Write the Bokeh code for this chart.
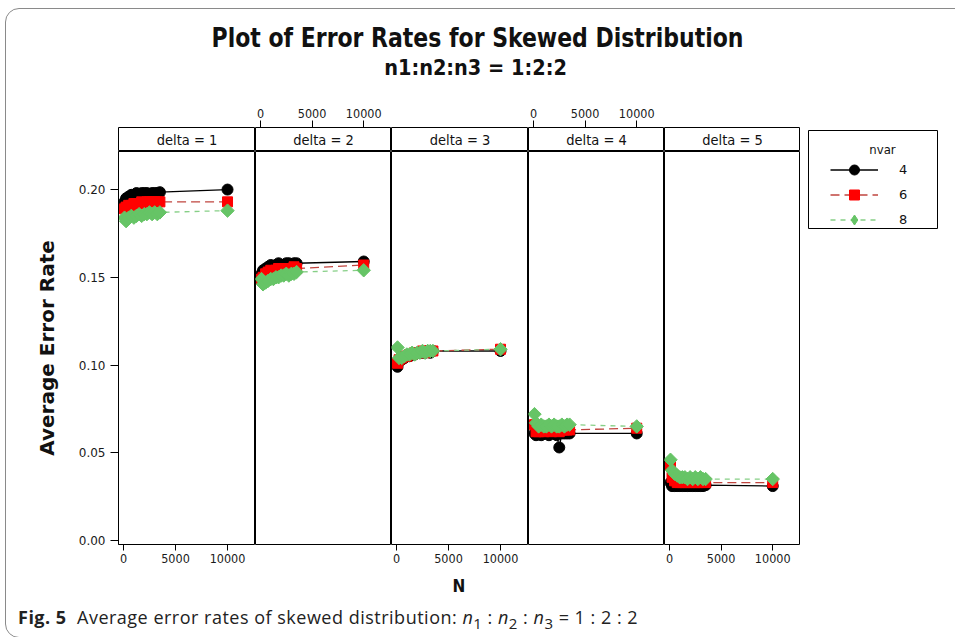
from bokeh.plotting import figure
from bokeh.models import (Range1d, LinearAxis, FixedTicker, NumeralTickFormatter, Div,
                          Legend, LegendItem, Label, ColumnDataSource)
from bokeh.layouts import row, column
from bokeh.embed import file_html
from bokeh.resources import INLINE
from bokeh.core.properties import value
import math

# ---------------- data ----------------
TITLE = "Plot of Error Rates for Skewed Distribution"
SUBTITLE = "n1:n2:n3 = 1:2:2"
X_LABEL = "N"
Y_LABEL = "Average Error Rate"
LEGEND_TITLE = "nvar"
nvar_labels = ["4", "6", "8"]
strip_labels = ["delta = 1", "delta = 2", "delta = 3", "delta = 4", "delta = 5"]
x_ticks = [0, 5000, 10000]
y_ticks = [0.0, 0.05, 0.10, 0.15, 0.20]

N = [100, 250, 500, 750, 1000, 1250, 1500, 1750, 2000, 2250, 2500, 2750, 3000, 3250, 3500, 10000]

d1_nvar4 = [0.193, 0.195, 0.196, 0.197, 0.197, 0.198, 0.197, 0.198, 0.198, 0.198, 0.197, 0.198, 0.198, 0.198, 0.1985, 0.200]
d1_nvar6 = [0.189, 0.190, 0.191, 0.191, 0.192, 0.192, 0.192, 0.193, 0.192, 0.193, 0.193, 0.193, 0.193, 0.193, 0.193, 0.193]
d1_nvar8 = [0.184, 0.182, 0.184, 0.185, 0.184, 0.185, 0.186, 0.185, 0.186, 0.186, 0.187, 0.186, 0.187, 0.186, 0.187, 0.188]

d2_nvar4 = [0.152, 0.154, 0.155, 0.156, 0.157, 0.156, 0.157, 0.158, 0.157, 0.157, 0.158, 0.158, 0.157, 0.158, 0.158, 0.159]
d2_nvar6 = [0.149, 0.150, 0.152, 0.153, 0.154, 0.153, 0.154, 0.155, 0.154, 0.155, 0.155, 0.155, 0.155, 0.156, 0.155, 0.157]
d2_nvar8 = [0.149, 0.146, 0.147, 0.148, 0.149, 0.149, 0.150, 0.150, 0.151, 0.151, 0.152, 0.151, 0.152, 0.152, 0.153, 0.154]

d3_nvar4 = [0.099, 0.102, 0.103, 0.104, 0.105, 0.105, 0.106, 0.106, 0.107, 0.107, 0.107, 0.107, 0.108, 0.107, 0.108, 0.108]
d3_nvar6 = [0.101, 0.103, 0.104, 0.105, 0.105, 0.106, 0.106, 0.107, 0.107, 0.107, 0.108, 0.107, 0.108, 0.108, 0.108, 0.109]
d3_nvar8 = [0.110, 0.104, 0.104, 0.105, 0.106, 0.106, 0.107, 0.106, 0.107, 0.107, 0.108, 0.107, 0.108, 0.108, 0.108, 0.109]

d4_nvar4 = [0.061, 0.060, 0.061, 0.060, 0.061, 0.061, 0.060, 0.061, 0.061, 0.060, 0.053, 0.061, 0.061, 0.061, 0.061, 0.061]
d4_nvar6 = [0.066, 0.062, 0.062, 0.063, 0.062, 0.063, 0.063, 0.062, 0.063, 0.063, 0.062, 0.063, 0.063, 0.063, 0.063, 0.064]
d4_nvar8 = [0.072, 0.067, 0.065, 0.066, 0.065, 0.065, 0.066, 0.065, 0.066, 0.065, 0.065, 0.066, 0.065, 0.066, 0.066, 0.065]

d5_nvar4 = [0.033, 0.031, 0.031, 0.031, 0.031, 0.031, 0.031, 0.031, 0.031, 0.031, 0.031, 0.031, 0.031, 0.031, 0.0315, 0.031]
d5_nvar6 = [0.043, 0.036, 0.034, 0.033, 0.033, 0.033, 0.033, 0.033, 0.033, 0.033, 0.033, 0.033, 0.033, 0.033, 0.033, 0.033]
d5_nvar8 = [0.046, 0.040, 0.038, 0.037, 0.036, 0.036, 0.036, 0.035, 0.036, 0.035, 0.036, 0.035, 0.036, 0.035, 0.035, 0.035]

panels = [
    [d1_nvar4, d1_nvar6, d1_nvar8],
    [d2_nvar4, d2_nvar6, d2_nvar8],
    [d3_nvar4, d3_nvar6, d3_nvar8],
    [d4_nvar4, d4_nvar6, d4_nvar8],
    [d5_nvar4, d5_nvar6, d5_nvar8],
]

# ---------------- styles ----------------
FONT = "DejaVu Sans"
COND = "DejaVu Sans Condensed"
series_style = [
    dict(line_color="black", line_dash="solid", marker="circle", size=11,
         fill="black", angle=0.0, legend_marker="circle"),
    dict(line_color="#c0453f", line_dash="9 5", marker="square", size=10,
         fill="#ff0000", angle=0.0, legend_marker="square"),
    dict(line_color="#86cf86", line_dash="5 5", marker="square", size=9.5,
         fill="#66c466", angle=math.pi / 4, legend_marker="diamond"),
]

LEFT_BORDER = 110
FRAME_W = [137, 136, 137, 136, 136]
STRIP_H = 61
STRIP_TOP = 37
PANEL_H = 423
PANEL_BOTTOM = 30

xr = Range1d(-480, 12690)
yr = Range1d(-0.0023, 0.2217)


def style_axis(ax, font, size):
    ax.axis_line_color = None
    ax.major_tick_line_color = "black"
    ax.major_tick_in = 0
    ax.minor_tick_line_color = None
    ax.major_label_text_font = font
    ax.major_label_text_font_size = size
    ax.major_label_text_color = "#1a1a1a"


columns = []
sources_first_panel = []
for i, (lab, series) in enumerate(zip(strip_labels, panels)):
    lb = LEFT_BORDER if i == 0 else 0
    # strip
    s = figure(width=lb + FRAME_W[i], height=STRIP_H, x_range=Range1d(0, 1), y_range=Range1d(0, 1),
               output_backend="svg", toolbar_location=None,
               min_border_left=lb, min_border_right=0, min_border_top=STRIP_TOP, min_border_bottom=0,
               x_axis_location=None, y_axis_location=None)
    s.grid.visible = False
    s.outline_line_color = "black"
    s.outline_line_width = 1
    s.background_fill_color = "white"
    s.border_fill_color = None
    s.text(x=[0.5], y=[0.5], text=[lab], text_align="center", text_baseline="middle",
           text_font=value(COND), text_font_size="14.5px", text_color="#111")
    if i in (1, 3):
        s.extra_x_ranges = {"N": xr}
        ax = LinearAxis(x_range_name="N", ticker=FixedTicker(ticks=x_ticks))
        style_axis(ax, COND, "12.5px")
        ax.major_tick_out = 7
        ax.major_label_standoff = 3
        s.add_layout(ax, "above")

    p = figure(width=lb + FRAME_W[i], height=PANEL_H, x_range=xr, y_range=yr,
               output_backend="svg", toolbar_location=None,
               min_border_left=lb, min_border_right=0, min_border_top=0, min_border_bottom=PANEL_BOTTOM,
               x_axis_location=None, y_axis_location=None)
    p.grid.visible = False
    p.outline_line_color = "black"
    p.outline_line_width = 1
    p.border_fill_color = None
    if i in (0, 2, 4):
        ax = LinearAxis(ticker=FixedTicker(ticks=x_ticks))
        style_axis(ax, COND, "12.5px")
        ax.major_tick_out = 6
        ax.major_label_standoff = 3
        p.add_layout(ax, "below")
    if i == 0:
        ay = LinearAxis(ticker=FixedTicker(ticks=y_ticks), formatter=NumeralTickFormatter(format="0.00"))
        style_axis(ay, FONT, "12px")
        ay.axis_line_color = "black"
        ay.major_tick_out = 8
        ay.major_label_standoff = 5
        ay.axis_label = Y_LABEL
        ay.axis_label_text_font = FONT
        ay.axis_label_text_font_size = "20px"
        ay.axis_label_text_font_style = "bold"
        ay.axis_label_text_color = "#111"
        ay.axis_label_standoff = 17
        p.add_layout(ay, "left")

    for vals, st in zip(series, series_style):
        src = ColumnDataSource(dict(N=N, err=vals))
        if i == 0:
            sources_first_panel.append(src)
        p.line("N", "err", source=src, line_color=st["line_color"], line_dash=st["line_dash"], line_width=1.3)
        p.scatter("N", "err", source=src, marker=st["marker"], size=st["size"], angle=st["angle"],
                  fill_color=st["fill"], line_color=st["fill"])
    columns.append(column(s, p, spacing=0))

# legend figure: its y-range (50..148) lies far above every error rate,
# so the renderers only contribute their legend samples.
LY0 = 50
lg = figure(width=147, height=STRIP_H + PANEL_H, x_range=Range1d(0, 129), y_range=Range1d(LY0, LY0 + 98),
            output_backend="svg", toolbar_location=None,
            min_border_left=8, min_border_right=10, min_border_top=40,
            min_border_bottom=STRIP_H + PANEL_H - 40 - 98,
            x_axis_location=None, y_axis_location=None)
lg.grid.visible = False
lg.outline_line_color = "black"
lg.outline_line_width = 1
lg.border_fill_color = None
items = []
for lab, st, src in zip(nvar_labels, series_style, sources_first_panel):
    r1 = lg.line("N", "err", source=src, line_color=st["line_color"], line_dash=st["line_dash"], line_width=1.3)
    r2 = lg.scatter("N", "err", source=src, marker=st["legend_marker"], size=st["size"],
                    fill_color=st["fill"], line_color=st["fill"])
    items.append(LegendItem(label=lab, renderers=[r1, r2]))
legend = Legend(items=items, location=(22, -4), padding=0, margin=0, spacing=0,
                glyph_width=48, glyph_height=25, label_standoff=21,
                label_text_font=FONT, label_text_font_size="13px", label_text_color="#111",
                background_fill_alpha=0, border_line_color=None)
lg.add_layout(legend)
lg.add_layout(Label(x=74, y=LY0 + 79, text=LEGEND_TITLE, text_align="center", text_baseline="middle",
                    text_font=COND, text_font_size="13px", text_color="#111"))

CF = "font-family:'DejaVu Sans Condensed','DejaVu Sans',sans-serif;font-weight:bold;color:#111;"
header = Div(text=f"""
<div style="position:relative;width:939px;height:82px;">
  <div style="position:absolute;left:-3px;top:0px;width:1000px;height:630px;border:1px solid #8a8a8a;border-radius:14px;pointer-events:none;"></div>
  <div style="position:absolute;left:0;top:14px;width:939px;text-align:center;font-size:27px;line-height:32px;transform:scaleX(0.905);{CF}">{TITLE}</div>
  <div style="position:absolute;left:0;top:48px;width:935px;text-align:center;font-size:21.5px;line-height:24px;{CF}">{SUBTITLE}</div>
</div>""", width=939, height=82, margin=(0, 0, 0, 0))

nlab = Div(text=f"""
<div style="position:relative;width:939px;height:24px;">
  <div style="position:absolute;left:431px;top:0;width:40px;text-align:center;font-size:17px;line-height:24px;{CF}">{X_LABEL}</div>
</div>""", width=939, height=24, margin=(0, 0, 0, 0))

caption = Div(text="""
<div style="position:relative;width:939px;height:29px;">
  <div style="position:absolute;left:10px;top:8px;white-space:nowrap;font-family:'Open Sans',sans-serif;font-size:18px;letter-spacing:0.5px;line-height:22px;color:#222;">
  <b>Fig. 5</b>&nbsp; Average error rates of skewed distribution: <i>n</i><sub>1</sub> : <i>n</i><sub>2</sub> : <i>n</i><sub>3</sub> = 1 : 2 : 2
  </div>
</div>""", width=939, height=29, margin=(0, 0, 0, 0))

body = row(*columns, lg, spacing=0)
page = column(header, body, nlab, caption, spacing=0, margin=(8, 0, 0, 8))

open("out.html", "w").write(file_html(page, INLINE))
